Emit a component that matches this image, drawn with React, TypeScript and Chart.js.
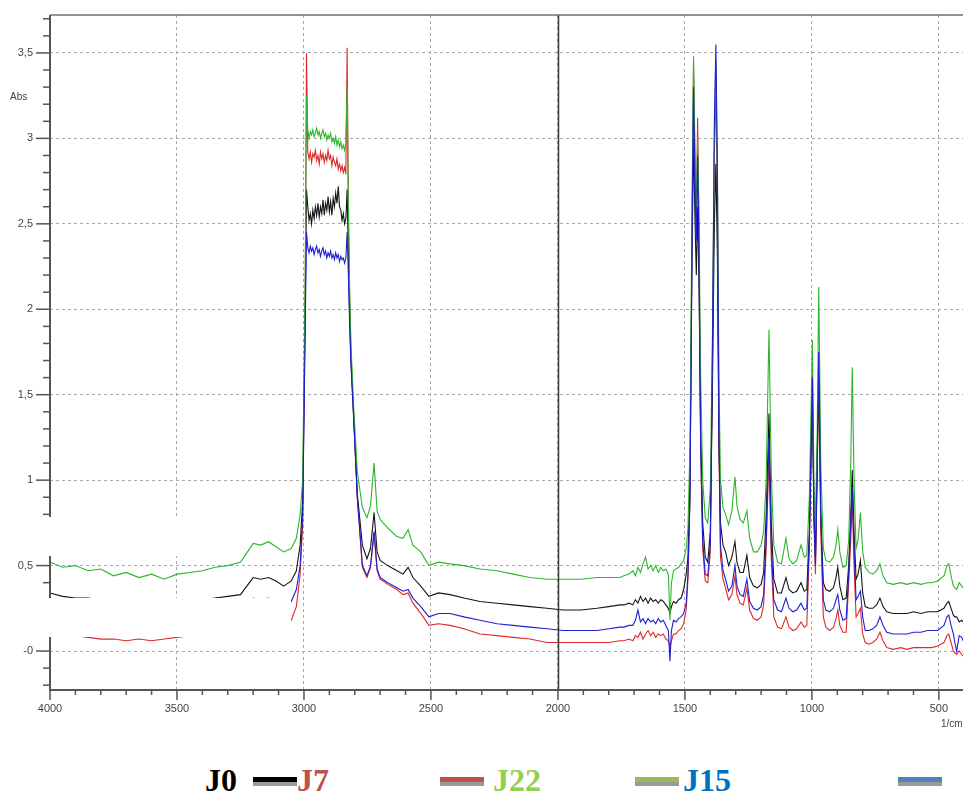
import React, { useEffect, useRef } from 'react';
import { Chart, registerables } from 'chart.js';
Chart.register(...registerables);

// Wavenumbers (1/cm), descending
const WAVENUMBERS = [
  4000, 3950, 3900, 3850, 3800, 3750, 3700, 3650, 3600, 3550, 3500, 3450, 3400, 3350, 3300, 3250, 3200, 3170, 3140, 3110, 3080, 3050, 3030, 3015, 3005,
  2995, 2990,
  2985, 2980, 2975, 2970, 2965, 2960, 2955, 2950, 2945, 2940, 2935, 2930, 2925, 2920, 2915, 2910, 2905, 2900, 2895, 2890, 2885, 2880, 2875, 2870, 2865, 2860, 2855, 2850, 2845, 2840, 2835,
  2830, 2825, 2820, 2815, 2805, 2790,
  2770, 2752, 2738, 2724, 2712, 2700, 2670, 2634, 2610, 2590, 2571, 2540, 2508, 2470, 2425, 2370, 2307, 2240, 2177, 2110, 2043, 1980, 1910, 1846, 1800, 1756,
  1740, 1720, 1705, 1695, 1685, 1675, 1665, 1655, 1645, 1635, 1625, 1615, 1605, 1595, 1585, 1575, 1565, 1559, 1553, 1545, 1535, 1525, 1515, 1505,
  1495, 1488, 1480, 1472, 1466, 1460, 1455, 1450, 1445, 1438,
  1430, 1420, 1410, 1400, 1392, 1384, 1378, 1372, 1366, 1360,
  1350, 1340, 1328, 1315, 1303, 1295, 1283, 1270, 1256, 1245,
  1230, 1215, 1200, 1190, 1180, 1169, 1160, 1150, 1135, 1120,
  1102, 1090, 1075, 1060, 1043, 1030, 1020, 1010, 998, 992,
  986, 979, 973, 965, 955, 945, 930, 915, 905, 898,
  890, 878, 865, 855, 847, 841, 834, 826, 818, 809,
  800, 790, 775, 760, 745, 732, 720, 705, 680, 650,
  626, 600, 570, 545, 528, 505, 480, 468, 461, 452,
  443, 437, 430, 420, 410, 405,
];

const J0 = [
  0.34, 0.32, 0.31, 0.31, 0.30, 0.30, 0.29, 0.29, 0.29, 0.29, 0.30, 0.30, 0.30, 0.31, 0.32, 0.33, 0.43, 0.42, 0.43, 0.41, 0.38, 0.41, 0.47, 0.62, 0.88,
  2.00, 2.70,
  2.60, 2.52, 2.56, 2.50, 2.58, 2.53, 2.60, 2.55, 2.62, 2.54, 2.60, 2.56, 2.64, 2.55, 2.62, 2.58, 2.66, 2.57, 2.63, 2.55, 2.65, 2.60, 2.68, 2.62, 2.72, 2.60, 2.58, 2.52, 2.56, 2.50, 2.53,
  2.70, 2.30, 1.95, 1.70, 1.40, 0.92,
  0.62, 0.54, 0.60, 0.81, 0.58, 0.53, 0.50, 0.47, 0.45, 0.49, 0.43, 0.38, 0.32, 0.34, 0.33, 0.31, 0.29, 0.28, 0.27, 0.26, 0.25, 0.24, 0.24, 0.25, 0.26, 0.27,
  0.27, 0.28, 0.27, 0.30, 0.28, 0.32, 0.29, 0.31, 0.28, 0.31, 0.29, 0.30, 0.28, 0.30, 0.29, 0.27, 0.25, 0.22, 0.26, 0.29, 0.28, 0.30, 0.31, 0.36,
  0.45, 0.55, 1.00, 2.30, 3.00, 2.50, 2.20, 2.60, 2.20, 1.30,
  0.75, 0.55, 0.52, 0.70, 1.50, 2.50, 2.85, 2.30, 1.20, 0.75,
  0.62, 0.58, 0.50, 0.55, 0.64, 0.52, 0.46, 0.46, 0.56, 0.43,
  0.38, 0.37, 0.39, 0.46, 0.80, 1.39, 0.75, 0.42, 0.34, 0.34,
  0.43, 0.36, 0.34, 0.35, 0.40, 0.35, 0.36, 0.70, 1.51, 0.80,
  0.55, 1.10, 1.66, 0.80, 0.40, 0.36, 0.35, 0.37, 0.43, 0.49,
  0.38, 0.30, 0.31, 0.50, 0.80, 1.06, 0.70, 0.42, 0.45, 0.53,
  0.34, 0.26, 0.25, 0.25, 0.27, 0.31, 0.26, 0.23, 0.22, 0.22,
  0.22, 0.23, 0.22, 0.23, 0.23, 0.23, 0.25, 0.28, 0.29, 0.25,
  0.21, 0.20, 0.20, 0.17, 0.18, 0.17,
];

const J7 = [
  0.12, 0.10, 0.09, 0.08, 0.07, 0.07, 0.06, 0.07, 0.06, 0.07, 0.08, 0.09, 0.10, 0.11, 0.12, 0.14, 0.19, 0.18, 0.19, 0.17, 0.16, 0.18, 0.26, 0.45, 0.75,
  2.10, 3.50,
  2.92, 2.88, 2.92, 2.86, 2.91, 2.89, 2.93, 2.87, 2.90, 2.85, 2.92, 2.88, 2.91, 2.86, 2.90, 2.87, 2.93, 2.88, 2.90, 2.84, 2.89, 2.86, 2.84, 2.88, 2.82, 2.85, 2.81, 2.84, 2.80, 2.83, 2.79,
  3.53, 2.55, 2.05, 1.75, 1.40, 0.90,
  0.49, 0.43, 0.49, 0.69, 0.47, 0.42, 0.39, 0.36, 0.33, 0.34, 0.28, 0.22, 0.15, 0.16, 0.15, 0.13, 0.10, 0.09, 0.08, 0.07, 0.05, 0.05, 0.05, 0.05, 0.05, 0.06,
  0.06, 0.07, 0.06, 0.09, 0.08, 0.11, 0.07, 0.10, 0.12, 0.09, 0.11, 0.08, 0.10, 0.09, 0.10, 0.07, 0.06, 0.02, 0.06, 0.10, 0.10, 0.12, 0.13, 0.16,
  0.24, 0.42, 0.90, 2.50, 3.43, 2.80, 2.45, 3.12, 2.50, 1.20,
  0.60, 0.41, 0.40, 0.58, 1.60, 2.90, 3.30, 2.60, 1.20, 0.55,
  0.42, 0.37, 0.30, 0.33, 0.44, 0.33, 0.28, 0.27, 0.37, 0.24,
  0.19, 0.18, 0.20, 0.27, 0.60, 1.15, 0.55, 0.20, 0.14, 0.13,
  0.20, 0.14, 0.12, 0.13, 0.17, 0.14, 0.15, 0.60, 1.55, 0.75,
  0.45, 1.05, 1.60, 0.70, 0.20, 0.14, 0.12, 0.14, 0.19, 0.24,
  0.15, 0.11, 0.11, 0.40, 0.65, 0.88, 0.50, 0.20, 0.22, 0.25,
  0.10, 0.05, 0.04, 0.05, 0.07, 0.11, 0.06, 0.02, 0.01, 0.02,
  0.01, 0.02, 0.02, 0.02, 0.02, 0.03, 0.05, 0.09, 0.10, 0.05,
  0.00, -0.01, -0.02, 0.00, -0.02, -0.03,
];

const J22 = [
  0.52, 0.49, 0.50, 0.47, 0.48, 0.44, 0.46, 0.43, 0.45, 0.42, 0.45, 0.46, 0.47, 0.49, 0.50, 0.52, 0.63, 0.62, 0.64, 0.61, 0.58, 0.60, 0.66, 0.80, 1.00,
  2.20, 3.25,
  3.05, 3.00, 3.04, 3.02, 3.05, 3.01, 3.03, 3.06, 3.02, 3.04, 3.00, 3.03, 3.05, 3.01, 3.03, 2.99, 3.02, 3.00, 3.03, 2.98, 3.00, 2.97, 3.01, 2.96, 2.99, 2.95, 2.98, 2.94, 2.96, 2.93, 2.97,
  3.30, 2.60, 2.10, 1.80, 1.45, 1.05,
  0.84, 0.78, 0.85, 1.10, 0.82, 0.77, 0.72, 0.67, 0.66, 0.71, 0.62, 0.58, 0.50, 0.52, 0.51, 0.50, 0.48, 0.47, 0.45, 0.43, 0.42, 0.42, 0.42, 0.43, 0.43, 0.43,
  0.44, 0.45, 0.47, 0.44, 0.49, 0.46, 0.51, 0.55, 0.48, 0.50, 0.47, 0.50, 0.46, 0.49, 0.47, 0.48, 0.45, 0.18, 0.40, 0.47, 0.48, 0.49, 0.51, 0.53,
  0.60, 0.72, 1.20, 2.60, 3.48, 2.90, 2.50, 3.00, 2.60, 1.60,
  1.00, 0.78, 0.75, 0.95, 1.80, 3.00, 3.45, 2.80, 1.60, 1.00,
  0.84, 0.80, 0.74, 0.82, 1.02, 0.85, 0.77, 0.75, 0.82, 0.66,
  0.58, 0.58, 0.62, 0.70, 1.00, 1.88, 1.05, 0.62, 0.52, 0.51,
  0.66, 0.54, 0.51, 0.53, 0.62, 0.55, 0.56, 0.90, 1.82, 1.00,
  0.75, 1.30, 2.13, 1.10, 0.60, 0.53, 0.52, 0.55, 0.62, 0.71,
  0.58, 0.49, 0.50, 0.65, 1.10, 1.66, 1.00, 0.60, 0.65, 0.81,
  0.58, 0.49, 0.46, 0.45, 0.47, 0.51, 0.44, 0.40, 0.39, 0.40,
  0.39, 0.40, 0.39, 0.40, 0.40, 0.41, 0.44, 0.50, 0.51, 0.44,
  0.38, 0.37, 0.36, 0.40, 0.38, 0.37,
];

const J15 = [
  0.24, 0.22, 0.21, 0.20, 0.20, 0.19, 0.19, 0.18, 0.18, 0.19, 0.19, 0.20, 0.21, 0.22, 0.23, 0.25, 0.31, 0.30, 0.31, 0.29, 0.27, 0.29, 0.36, 0.50, 0.80,
  1.90, 2.45,
  2.36, 2.33, 2.37, 2.34, 2.36, 2.32, 2.35, 2.37, 2.33, 2.35, 2.31, 2.34, 2.36, 2.32, 2.34, 2.30, 2.33, 2.31, 2.34, 2.30, 2.32, 2.29, 2.33, 2.30, 2.32, 2.28, 2.31, 2.29, 2.30, 2.27, 2.30,
  2.45, 2.20, 1.90, 1.68, 1.38, 0.90,
  0.50, 0.44, 0.50, 0.70, 0.48, 0.43, 0.40, 0.37, 0.35, 0.36, 0.31, 0.26, 0.20, 0.22, 0.22, 0.20, 0.18, 0.16, 0.15, 0.14, 0.13, 0.12, 0.12, 0.12, 0.13, 0.14,
  0.14, 0.15, 0.15, 0.18, 0.24, 0.17, 0.19, 0.16, 0.19, 0.17, 0.18, 0.16, 0.19, 0.17, 0.18, 0.15, 0.12, -0.06, 0.12, 0.18, 0.17, 0.19, 0.20, 0.22,
  0.28, 0.45, 0.90, 2.40, 3.30, 2.70, 2.40, 2.90, 2.40, 1.20,
  0.65, 0.45, 0.44, 0.62, 1.70, 3.10, 3.55, 2.80, 1.30, 0.62,
  0.47, 0.42, 0.35, 0.38, 0.50, 0.38, 0.33, 0.32, 0.42, 0.29,
  0.25, 0.24, 0.26, 0.33, 0.65, 1.25, 0.62, 0.30, 0.24, 0.23,
  0.31, 0.25, 0.23, 0.24, 0.28, 0.24, 0.25, 0.65, 1.60, 0.80,
  0.50, 1.10, 1.75, 0.80, 0.30, 0.24, 0.23, 0.25, 0.30, 0.33,
  0.24, 0.18, 0.19, 0.45, 0.75, 0.96, 0.60, 0.30, 0.32, 0.35,
  0.20, 0.12, 0.12, 0.13, 0.15, 0.20, 0.15, 0.11, 0.10, 0.10,
  0.10, 0.11, 0.11, 0.12, 0.12, 0.12, 0.15, 0.20, 0.21, 0.15,
  0.10, 0.05, 0.00, 0.09, 0.08, 0.06,
];

const X_MAJOR_TICKS = [500, 1000, 1500, 2000, 2500, 3000, 3500, 4000];
const Y_MAJOR_TICKS = [0, 0.5, 1, 1.5, 2, 2.5, 3, 3.5];
const Y_TICK_LABELS = ['-0', '0,5', '1', '1,5', '2', '2,5', '3', '3,5'];

const SERIES = [
  { name: 'J0', values: J0, line: '#151515', text: '#000000', swatch: '#000000' },
  { name: 'J7', values: J7, line: '#e02a2a', text: '#c0504d', swatch: '#c0504d' },
  { name: 'J22', values: J22, line: '#2db52d', text: '#92d050', swatch: '#9bbb59' },
  { name: 'J15', values: J15, line: '#1f1fd0', text: '#0070c0', swatch: '#4f81bd' },
];

const decorPlugin = {
  id: 'decor',
  afterDraw(chart: any) {
    const { ctx, chartArea: a, scales } = chart;
    const xs = scales.x;
    const ys = scales.y;
    ctx.save();
    // solid cursor line at 2000
    const p2000 = Math.round(xs.getPixelForValue(2000)) + 0.5;
    ctx.strokeStyle = '#3a3a3a';
    ctx.lineWidth = 1.5;
    ctx.beginPath();
    ctx.moveTo(p2000, a.top);
    ctx.lineTo(p2000, a.bottom);
    ctx.stroke();
    // top border
    ctx.strokeStyle = '#707070';
    ctx.lineWidth = 1.5;
    ctx.beginPath();
    ctx.moveTo(a.left, a.top);
    ctx.lineTo(a.right, a.top);
    ctx.stroke();
    // axes
    ctx.strokeStyle = '#555555';
    ctx.lineWidth = 2;
    ctx.beginPath();
    ctx.moveTo(a.left, a.top);
    ctx.lineTo(a.left, a.bottom);
    ctx.lineTo(a.right, a.bottom);
    ctx.stroke();
    // y ticks
    ctx.lineWidth = 1.5;
    for (let i = -2; i <= 37; i++) {
      const py = ys.getPixelForValue(i / 10);
      if (py < a.top - 0.5 || py > a.bottom + 0.5) continue;
      const len = i % 5 === 0 ? 14 : 7;
      ctx.beginPath();
      ctx.moveTo(a.left - len, py);
      ctx.lineTo(a.left, py);
      ctx.stroke();
    }
    // x ticks
    for (let w = 500; w <= 4000; w += 100) {
      const px = xs.getPixelForValue(w);
      const len = w % 500 === 0 ? 10 : 5;
      ctx.beginPath();
      ctx.moveTo(px, a.bottom);
      ctx.lineTo(px, a.bottom + len);
      ctx.stroke();
    }
    // axis titles
    ctx.fillStyle = '#444';
    ctx.font = '10px "Liberation Sans", Arial, sans-serif';
    ctx.textAlign = 'left';
    ctx.textBaseline = 'middle';
    ctx.fillText('Abs', 10, 97);
    ctx.fillText('1/cm', 941, 724);
    // white patches present in the picture
    ctx.fillStyle = '#ffffff';
    ctx.fillRect(0, 517, 205, 39);
    ctx.fillRect(0, 598, 291, 39);
    ctx.restore();
  },
};

export default function App() {
  const ref = useRef<HTMLCanvasElement>(null);
  useEffect(() => {
    const n = WAVENUMBERS.length;
    for (const s of SERIES) {
      if (s.values.length !== n) throw new Error(s.name + ' length ' + s.values.length + ' != ' + n);
    }
    const chart = new Chart(ref.current as HTMLCanvasElement, {
      type: 'line',
      data: {
        datasets: SERIES.map((s, i) => ({
          label: s.name,
          data: WAVENUMBERS.map((w, k) => ({ x: w, y: s.values[k] })),
          borderColor: s.line,
          borderWidth: 1.1,
          pointRadius: 0,
          tension: 0,
          fill: false,
          order: [2, 3, 1, 0][i],
        })),
      },
      options: {
        animation: false,
        responsive: false,
        layout: { padding: { top: 15, left: 0, right: 0, bottom: 0 } },
        plugins: { legend: { display: false }, tooltip: { enabled: false } },
        scales: {
          x: {
            type: 'linear',
            reverse: true,
            min: 405,
            max: 4000,
            afterBuildTicks: (sc: any) => {
              sc.ticks = X_MAJOR_TICKS.map((v) => ({ value: v }));
            },
            afterFit: (sc: any) => {
              sc.height = 50;
              sc.paddingLeft = 0;
              sc.paddingRight = 0;
              sc.paddingTop = 0;
              sc.paddingBottom = 0;
            },
            ticks: {
              color: '#444',
              font: { family: '"Liberation Sans", Arial, sans-serif', size: 11 },
              padding: 12,
              maxRotation: 0,
              autoSkip: false,
              callback: (v: any) => String(v),
            },
            grid: { color: '#a8a8a8', lineWidth: 1, drawTicks: false },
            border: { display: false, dash: [3, 3] },
          },
          y: {
            type: 'linear',
            min: -0.228,
            max: 3.722,
            afterBuildTicks: (sc: any) => {
              sc.ticks = Y_MAJOR_TICKS.map((v) => ({ value: v }));
            },
            afterFit: (sc: any) => {
              sc.width = 50;
              sc.paddingLeft = 0;
              sc.paddingRight = 0;
              sc.paddingTop = 0;
              sc.paddingBottom = 0;
            },
            ticks: {
              color: '#444',
              font: { family: '"Liberation Sans", Arial, sans-serif', size: 11 },
              padding: 17,
              autoSkip: false,
              callback: (v: any) => {
                const idx = Y_MAJOR_TICKS.indexOf(v);
                return idx >= 0 ? Y_TICK_LABELS[idx] : '';
              },
            },
            grid: { color: '#a8a8a8', lineWidth: 1, drawTicks: false },
            border: { display: false, dash: [3, 3] },
          },
        },
      },
      plugins: [decorPlugin],
    } as any);
    return () => chart.destroy();
  }, []);

  const legendText = [205, 297, 493, 683];
  const legendLine = [253, 440, 635, 898];

  return (
    <div style={{ position: 'absolute', left: 0, top: 0, width: 963, height: 800, background: '#fff', overflow: 'hidden' }}>
      <canvas ref={ref} width={963} height={740} style={{ display: 'block' }} />
      {SERIES.map((s, i) => (
        <div
          key={'t' + s.name}
          style={{
            position: 'absolute',
            left: legendText[i],
            top: 764,
            fontFamily: '"Liberation Serif", "Times New Roman", serif',
            fontWeight: 'bold',
            fontSize: 32,
            lineHeight: '32px',
            color: s.text,
            whiteSpace: 'nowrap',
          }}
        >
          {s.name}
        </div>
      ))}
      {SERIES.map((s, i) => (
        <div key={'l' + s.name} style={{ position: 'absolute', left: legendLine[i], top: 777, width: 44 }}>
          <div style={{ height: 5, background: s.swatch }} />
          <div style={{ height: 4, background: '#9a9a9a' }} />
        </div>
      ))}
    </div>
  );
}
